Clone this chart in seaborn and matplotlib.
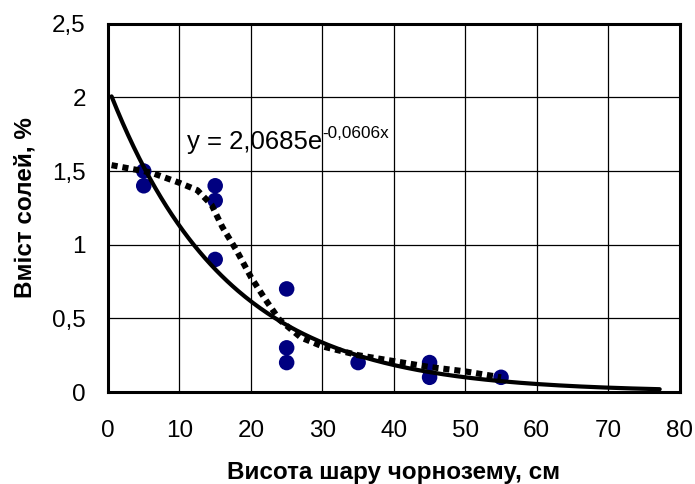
import numpy as np
import pandas as pd
import matplotlib
matplotlib.use("Agg")
import matplotlib.pyplot as plt
import seaborn as sns

# Observed data points
depth = [5, 5, 15, 15, 15, 25, 25, 25, 35, 45, 45, 55]
salt = [1.5, 1.4, 1.4, 1.3, 0.9, 0.7, 0.3, 0.2, 0.2, 0.2, 0.1, 0.1]

# Smoothed (dotted) line
smooth_x = [0.5, 6, 10, 12.5, 14.5, 16, 18, 20, 22, 24, 27, 30, 35, 40, 45, 50, 55]
smooth_y = [1.54, 1.49, 1.42, 1.37, 1.27, 1.12, 0.96, 0.78, 0.63, 0.49, 0.37, 0.31,
            0.25, 0.21, 0.17, 0.14, 0.10]

# Exponential trendline coefficients (as printed on chart)
trend_a = 2.0685
trend_b = -0.0606
trend_range = (0.5, 77.2)

x_ticks = [0, 10, 20, 30, 40, 50, 60, 70, 80]
y_ticks = [0, 0.5, 1, 1.5, 2, 2.5]
y_tick_labels = ["0", "0,5", "1", "1,5", "2", "2,5"]

sns.set_theme(style="white")
plt.rcParams['font.family'] = ['Liberation Sans', 'DejaVu Sans']

fig = plt.figure(figsize=(6.95, 4.84), dpi=100)
ax = fig.add_axes([0.1554, 0.19, 0.978 - 0.1554, 0.951 - 0.19])

tx = np.linspace(trend_range[0], trend_range[1], 300)
ty = trend_a * np.exp(trend_b * tx)
trend_df = pd.DataFrame({"x": tx, "y": ty})
sm_df = pd.DataFrame({"x": smooth_x, "y": smooth_y})
pts_df = pd.DataFrame({"x": depth, "y": salt})

sns.scatterplot(data=pts_df, x="x", y="y", ax=ax, color="#000080", s=125,
                edgecolor="none", zorder=3)
sns.lineplot(data=sm_df, x="x", y="y", ax=ax, color="black", linewidth=4.4,
             dashes=False, zorder=4, sort=False)
ax.lines[-1].set_linestyle((0, (1.0, 0.8)))
ax.lines[-1].set_dash_capstyle('butt')
sns.lineplot(data=trend_df, x="x", y="y", ax=ax, color="black", linewidth=3.0,
             zorder=5, sort=False)

ax.set_xlim(0, 80)
ax.set_ylim(0, 2.5)
ax.set_xticks(x_ticks)
ax.set_xticklabels([str(v) for v in x_ticks])
ax.set_yticks(y_ticks)
ax.set_yticklabels(y_tick_labels)
ax.grid(True, color="black", linewidth=0.9)
ax.set_axisbelow(True)
for s in ax.spines.values():
    s.set_visible(True)
    s.set_color("black")
    s.set_linewidth(2.2)
ax.tick_params(axis="both", direction="out", length=6, width=1, color="black",
               labelsize=17.5, labelcolor="black")
ax.tick_params(axis="x", pad=14)
ax.tick_params(axis="y", pad=10)

ax.set_xlabel("Висота шару чорнозему, см", fontsize=17.5, fontweight="bold",
              labelpad=14, color="black")
ax.set_ylabel("Вміст солей, %", fontsize=17.5, fontweight="bold",
              labelpad=11, color="black")

t = ax.text(11.05, 1.65, "y = 2,0685e", fontsize=18.5, color="black",
            ha="left", va="baseline", zorder=6)
ax.annotate("-0,0606x", xy=(1.0, 1.0), xycoords=t, fontsize=12.3, color="black",
            ha="left", va="top", xytext=(0, 3), textcoords="offset points", zorder=6)

fig.savefig("out.png", dpi=100)
